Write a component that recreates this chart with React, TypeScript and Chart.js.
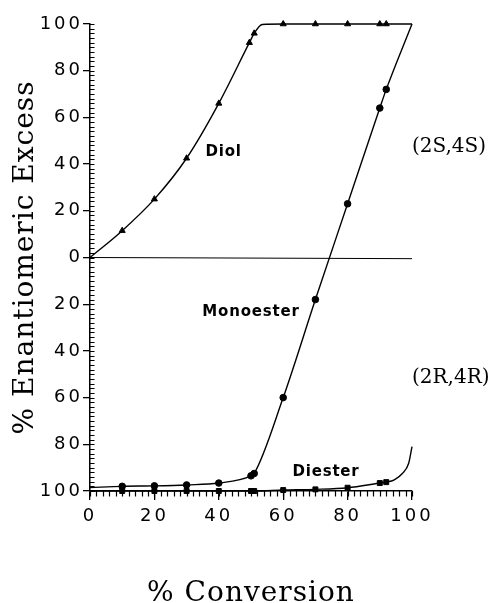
import React, { useEffect, useRef } from 'react';
import { Chart, registerables } from 'chart.js';

Chart.register(...registerables);

// Axis ticks
const xTickValues = [0, 20, 40, 60, 80, 100];
const yTickValues = [-100, -80, -60, -40, -20, 0, 20, 40, 60, 80, 100];

// Diol (triangles)
const diolConv = [10, 20, 30, 40, 49.5, 51, 60, 70, 80, 90, 92];
const diolEE = [11.5, 25, 42.5, 66, 92, 96, 100, 100, 100, 100, 100];
const diolCurveConv = [0, 53.5, 100];
const diolCurveEE = [0, 99.8, 100];

// Monoester (circles)
const monoConv = [10, 20, 30, 40, 50, 51, 60, 70, 80, 90, 92];
const monoEE = [-98, -97.8, -97.4, -96.6, -93.5, -92.5, -60, -18, 23, 64, 72];
const monoCurveConv = [0, 100];
const monoCurveEE = [-98.5, 100];

// Diester (squares)
const diesterConv = [10, 20, 30, 40, 50, 51, 60, 70, 80, 90, 92];
const diesterEE = [-100, -100, -100, -100, -100, -100, -99.6, -99.3, -98.6, -96.6, -96.2];
const diesterCurveConv = [0, 94.5, 97, 99, 100];
const diesterCurveEE = [-100, -95.2, -92.5, -88, -81];

// Zero reference line
const zeroConv = [0, 100];
const zeroEE = [0, -0.5];

// Text labels placed in data coordinates
const seriesLabels = [
  { text: 'Diol', x: 41.5, y: 45 },
  { text: 'Monoester', x: 50, y: -23.3 },
  { text: 'Diester', x: 73.3, y: -92 },
];
const configLabels = [
  { text: '(2S,4S)', x: 100, y: 47.2 },
  { text: '(2R,4R)', x: 100, y: -51.5 },
];

const xTitle = '% Conversion';
const yTitle = '% Enantiomeric Excess';

function pts(xs: number[], ys: number[]) {
  return xs.map((x, i) => ({ x, y: ys[i] }));
}
function curve(mx: number[], my: number[], cx: number[], cy: number[]) {
  return pts(mx, my).concat(pts(cx, cy)).sort((a, b) => a.x - b.x);
}

const decorPlugin = {
  id: 'decor',
  beforeDraw(chart: any) {
    chart.ctx.letterSpacing = '3px';
  },
  afterDraw(chart: any) {
    const ctx = chart.ctx;
    const xs = chart.scales.x;
    const ys = chart.scales.y;
    const ca = chart.chartArea;
    ctx.save();
    ctx.letterSpacing = '0px';
    ctx.strokeStyle = '#000';
    ctx.lineWidth = 1.2;
    ctx.beginPath();
    const axX = xs.getPixelForValue(0);
    for (let v = -100; v <= 100; v += 2) {
      const py = Math.round(ys.getPixelForValue(v)) + 0.5;
      ctx.moveTo(axX, py);
      ctx.lineTo(axX + 4.5, py);
    }
    const axY = ys.getPixelForValue(-100);
    for (let v = 0; v <= 100; v += 2) {
      const px = Math.round(xs.getPixelForValue(v)) + 0.5;
      ctx.moveTo(px, axY);
      ctx.lineTo(px, axY + 5.5);
    }
    ctx.stroke();

    // series labels
    ctx.fillStyle = '#000';
    ctx.font = 'bold 15px "DejaVu Sans"';
    ctx.letterSpacing = '0.8px';
    ctx.textBaseline = 'middle';
    ctx.textAlign = 'center';
    seriesLabels.forEach((l) => {
      ctx.fillText(l.text, xs.getPixelForValue(l.x), ys.getPixelForValue(l.y));
    });
    ctx.font = '20px "DejaVu Serif"';
    ctx.letterSpacing = '0px';
    ctx.textAlign = 'left';
    configLabels.forEach((l) => {
      ctx.fillText(l.text, xs.getPixelForValue(l.x), ys.getPixelForValue(l.y));
    });

    // axis titles
    ctx.font = '28px "DejaVu Serif"';
    ctx.letterSpacing = '1px';
    ctx.textAlign = 'center';
    ctx.textBaseline = 'alphabetic';
    ctx.fillText(xTitle, (ca.left + ca.right) / 2, ca.bottom + 110);
    ctx.translate(33, (ca.top + ca.bottom) / 2);
    ctx.rotate(-Math.PI / 2);
    ctx.fillText(yTitle, 0, 0);
    ctx.restore();
  },
};

export default function App() {
  const ref = useRef<HTMLCanvasElement>(null);
  useEffect(() => {
    if (!ref.current) return;
    const lineCommon = {
      showLine: true,
      borderColor: '#000',
      borderWidth: 1.4,
      pointRadius: 0,
      cubicInterpolationMode: 'monotone' as const,
      clip: false as any,
      fill: false,
    };
    const markCommon = {
      showLine: false,
      borderColor: '#000',
      backgroundColor: '#000',
      borderWidth: 1,
      clip: false as any,
    };
    const chart = new Chart(ref.current, {
      type: 'scatter',
      data: {
        datasets: [
          { ...lineCommon, data: pts(zeroConv, zeroEE), borderWidth: 1, cubicInterpolationMode: 'default' as const, tension: 0 },
          { ...lineCommon, data: curve(diolConv, diolEE, diolCurveConv, diolCurveEE) },
          { ...lineCommon, data: curve(monoConv, monoEE, monoCurveConv, monoCurveEE) },
          { ...lineCommon, data: curve(diesterConv, diesterEE, diesterCurveConv, diesterCurveEE) },
          { ...markCommon, data: pts(diolConv, diolEE), pointStyle: 'triangle', pointRadius: 3.5 },
          { ...markCommon, data: pts(monoConv, monoEE), pointStyle: 'circle', pointRadius: 3.3 },
          { ...markCommon, data: pts(diesterConv, diesterEE), pointStyle: 'rect', pointRadius: 3.5 },
        ],
      },
      options: {
        animation: false,
        responsive: false,
        events: [],
        layout: { padding: { left: 0, right: 80, top: 24, bottom: 0 } },
        plugins: { legend: { display: false }, tooltip: { enabled: false } },
        scales: {
          x: {
            type: 'linear',
            min: 0,
            max: 100,
            afterBuildTicks: (s: any) => { s.ticks = xTickValues.map((v) => ({ value: v })); },
            afterFit: (s: any) => { s.height = 112; s.paddingLeft = 0; s.paddingRight = 0; },
            ticks: {
              color: '#000',
              font: { family: '"DejaVu Sans"', size: 18 },
              padding: 6,
              maxRotation: 0,
              callback: (v: any) => String(Math.abs(v)),
            },
            grid: { drawOnChartArea: false, drawTicks: true, tickLength: 9, color: '#000', lineWidth: 1.3 },
            border: { display: true, color: '#000', width: 1.5 },
          },
          y: {
            type: 'linear',
            min: -100,
            max: 100,
            afterBuildTicks: (s: any) => { s.ticks = yTickValues.map((v) => ({ value: v })); },
            afterFit: (s: any) => { s.width = 90; s.paddingTop = 0; s.paddingBottom = 0; },
            ticks: {
              color: '#000',
              font: { family: '"DejaVu Sans"', size: 18 },
              padding: 0,
              callback: (v: any) => String(Math.abs(v)),
            },
            grid: { drawOnChartArea: false, drawTicks: true, tickLength: 7, color: '#000', lineWidth: 1.3 },
            border: { display: true, color: '#000', width: 1.5 },
          },
        },
      },
      plugins: [decorPlugin],
    });
    return () => chart.destroy();
  }, []);
  return (
    <div style={{ position: 'fixed', left: 0, top: 0, width: 492, height: 603, background: '#fff' }}>
      <canvas ref={ref} width={492} height={603} style={{ display: 'block' }} />
    </div>
  );
}
